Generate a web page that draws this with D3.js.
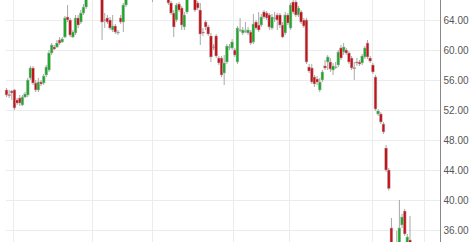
<!DOCTYPE html>
<html>
<head>
<meta charset="utf-8">
<script src="https://cdn.jsdelivr.net/npm/d3@7"></script>
<style>
  html, body { margin: 0; padding: 0; background: #fff; }
  svg { display: block; }
  .tick-label { font-family: "Liberation Sans", Arial, sans-serif; font-size: 10px; fill: #555; }
</style>
</head>
<body>
<svg id="chart"></svg>
<script>
// Daily OHLC values (some candles run past the top/bottom edge)
const opens = [
  54.67, 54.05, 54.53, 54.67, 53.33, 53.60, 52.67, 53.73, 54.00, 56.27,
  57.60, 55.60, 54.67, 55.73, 55.60, 56.67, 57.33, 59.60, 60.40, 60.40,
  61.33, 61.07, 61.73, 64.40, 64.00, 61.73, 62.27, 64.27, 63.73, 64.93,
  65.73, 66.90, 67.30, 67.90, 68.30, 67.90, 67.10, 64.05, 64.27, 64.00,
  62.67, 63.20, 62.27, 64.27, 63.73, 66.00, 67.20, 67.60, 68.00, 68.50,
  68.20, 67.90, 68.40, 69.00, 68.60, 67.70, 67.10, 67.60, 68.10, 67.80,
  67.50, 67.20, 66.27, 64.93, 64.00, 66.13, 65.60, 63.07, 65.07, 67.00,
  67.50, 67.30, 66.27, 65.33, 62.40, 63.73, 63.07, 61.87, 60.45, 61.87,
  58.93, 58.93, 56.93, 58.40, 60.35, 60.27, 60.00, 58.40, 62.60, 62.27,
  62.50, 62.27, 62.40, 61.07, 63.73, 63.33, 63.33, 65.07, 64.93, 64.67,
  62.93, 64.23, 64.67, 64.67, 63.33, 62.27, 64.67, 62.93, 66.40, 66.40,
  64.67, 65.07, 64.00, 64.00, 57.73, 57.60, 56.40, 56.13, 54.67, 56.00,
  57.87, 58.40, 58.40, 57.33, 57.70, 58.00, 60.27, 59.73, 60.00, 59.60,
  58.93, 57.65, 58.40, 58.40, 58.27, 59.07, 60.93, 58.93, 58.00, 56.40,
  51.47, 51.47, 50.13, 46.93, 44.00, 36.27, 33.50, 33.00, 33.33, 36.67,
  38.53, 34.00, 34.67
];
const highs = [
  54.93, 54.67, 54.67, 54.80, 53.60, 54.00, 54.00, 54.40, 56.27, 57.87,
  57.87, 56.00, 56.27, 56.00, 56.80, 58.00, 60.00, 60.93, 60.67, 61.33,
  61.73, 61.73, 64.53, 66.00, 64.27, 62.67, 64.67, 64.67, 65.33, 66.13,
  67.30, 67.60, 68.20, 68.60, 68.90, 68.40, 67.50, 64.93, 64.67, 64.40,
  64.67, 63.47, 62.67, 64.67, 66.27, 67.60, 67.90, 68.30, 68.80, 69.10,
  68.70, 68.60, 69.20, 69.50, 68.90, 68.00, 67.90, 68.40, 68.60, 68.20,
  67.90, 67.40, 66.53, 65.33, 66.27, 66.40, 65.87, 65.07, 67.50, 67.80,
  68.00, 67.60, 66.53, 66.27, 62.93, 64.00, 63.33, 62.27, 60.80, 62.13,
  59.20, 59.20, 59.33, 60.80, 60.80, 61.47, 60.27, 63.20, 64.27, 63.07,
  63.73, 63.07, 62.67, 64.80, 64.00, 65.07, 64.80, 65.33, 65.20, 64.93,
  64.80, 65.07, 64.93, 64.93, 63.73, 65.07, 64.93, 66.27, 66.67, 66.67,
  65.87, 65.33, 64.27, 64.27, 58.13, 58.13, 56.67, 56.53, 56.27, 57.33,
  58.67, 59.33, 58.93, 58.27, 58.40, 60.00, 60.67, 60.93, 60.27, 59.87,
  59.20, 58.40, 58.93, 58.67, 59.47, 60.53, 61.33, 59.20, 58.27, 56.67,
  52.13, 51.73, 50.40, 47.33, 44.27, 37.60, 34.20, 35.87, 40.00, 38.13,
  38.80, 35.47, 37.87
];
const lows = [
  53.73, 53.60, 53.33, 52.00, 52.67, 52.53, 52.53, 53.60, 53.73, 56.00,
  55.33, 54.40, 54.40, 55.20, 55.33, 56.40, 57.07, 59.33, 60.00, 60.27,
  60.67, 60.93, 61.60, 63.73, 61.73, 61.60, 62.00, 62.93, 63.47, 64.67,
  65.47, 66.80, 67.00, 67.40, 67.60, 67.20, 61.33, 62.93, 63.47, 62.67,
  62.40, 62.13, 62.00, 63.47, 62.40, 65.73, 66.90, 67.20, 67.70, 68.00,
  67.60, 67.50, 68.10, 68.30, 67.40, 66.40, 66.80, 67.30, 67.50, 67.20,
  66.90, 66.00, 64.67, 61.73, 63.73, 65.07, 62.67, 62.67, 64.80, 66.80,
  66.90, 65.07, 65.33, 60.67, 61.87, 62.67, 61.87, 58.40, 60.00, 58.93,
  58.00, 56.40, 55.33, 58.13, 60.00, 60.00, 59.07, 58.13, 62.40, 62.00,
  62.27, 62.00, 60.67, 60.80, 62.67, 62.40, 63.07, 64.13, 64.00, 62.67,
  62.67, 63.73, 62.67, 62.93, 61.60, 62.00, 63.33, 62.67, 64.80, 64.40,
  64.40, 63.47, 62.93, 58.13, 56.93, 55.47, 55.07, 55.33, 54.40, 55.73,
  57.33, 57.33, 57.07, 56.67, 57.47, 57.73, 58.67, 59.33, 59.33, 58.13,
  57.33, 56.00, 57.87, 57.87, 58.00, 58.80, 58.80, 58.27, 56.80, 51.87,
  51.20, 50.13, 48.80, 43.73, 41.27, 32.67, 32.30, 32.50, 33.00, 36.27,
  35.20, 33.70, 33.90
];
const closes = [
  54.00, 53.95, 54.27, 52.27, 52.93, 52.93, 53.73, 54.13, 56.00, 57.60,
  55.60, 54.67, 55.73, 55.47, 56.53, 57.73, 59.60, 60.67, 60.13, 60.93,
  60.93, 61.47, 64.27, 64.00, 62.00, 62.40, 64.27, 63.33, 64.93, 65.73,
  66.80, 67.30, 67.90, 68.30, 67.90, 68.00, 63.73, 63.95, 63.73, 62.93,
  63.20, 62.40, 62.40, 63.73, 66.00, 67.20, 67.60, 68.00, 68.50, 68.20,
  67.90, 68.40, 69.00, 68.60, 67.70, 67.10, 67.60, 68.10, 67.80, 67.50,
  67.20, 66.27, 64.93, 63.07, 66.00, 65.33, 63.33, 64.67, 67.00, 67.50,
  67.30, 65.33, 65.60, 62.13, 62.35, 63.07, 62.13, 59.07, 60.35, 59.20,
  58.27, 56.67, 58.27, 60.53, 60.45, 61.07, 59.33, 62.93, 62.70, 62.67,
  62.58, 62.67, 60.93, 63.47, 62.93, 62.67, 64.40, 64.40, 64.27, 63.07,
  64.40, 64.30, 64.00, 63.33, 61.73, 64.67, 63.60, 66.00, 65.07, 64.67,
  65.60, 63.73, 63.20, 58.40, 57.20, 55.73, 55.47, 55.73, 55.73, 57.07,
  57.60, 59.07, 57.47, 57.87, 57.76, 59.73, 58.93, 60.40, 59.60, 58.40,
  57.60, 57.55, 58.27, 58.13, 59.20, 60.27, 59.07, 58.53, 57.07, 52.13,
  51.87, 50.40, 49.07, 44.00, 41.53, 33.33, 32.80, 33.80, 36.27, 37.73,
  35.47, 35.07, 34.13
];
// price axis ticks and vertical grid positions (in trading-day units)
const priceTicks = [36, 40, 44, 48, 52, 56, 60, 64];
const gridDays = [2.5, 32.2, 54.8, 85.3, 106.4, 137.7, 157.3];

const width = 474, height = 242;
const axisX = 440;
const upColor = '#1ea82a', downColor = '#c3141b';

const candles = opens.map((o, i) => ({ i, o, h: highs[i], l: lows[i], c: closes[i] }));

const svg = d3.select('#chart').attr('width', width).attr('height', height);

const x = d3.scaleLinear().domain([0, candles.length - 1]).range([6.5, 410]);
const y = d3.scaleLinear().domain([64, 36]).range([20, 230]);

svg.append('clipPath').attr('id', 'plot-clip')
  .append('rect').attr('x', 0).attr('y', 0).attr('width', axisX).attr('height', height);

// grid
const grid = svg.append('g');
grid.selectAll('.hgrid')
  .data(priceTicks)
  .enter().append('line')
  .attr('x1', 6).attr('x2', axisX)
  .attr('y1', d => Math.round(y(d)) + 0.5).attr('y2', d => Math.round(y(d)) + 0.5)
  .attr('stroke', '#ececec');
grid.selectAll('.vgrid')
  .data(gridDays)
  .enter().append('line')
  .attr('x1', d => Math.round(x(d)) + 0.5).attr('x2', d => Math.round(x(d)) + 0.5)
  .attr('y1', 0).attr('y2', height)
  .attr('stroke', '#ececec');

// candles
const plot = svg.append('g').attr('clip-path', 'url(#plot-clip)');

plot.selectAll('.wick')
  .data(candles)
  .enter().append('line')
  .attr('x1', d => x(d.i)).attr('x2', d => x(d.i))
  .attr('y1', d => y(d.h)).attr('y2', d => y(d.l))
  .attr('stroke', '#a8a8a8')
  .attr('stroke-width', 1);

plot.selectAll('.body')
  .data(candles)
  .enter().append('rect')
  .attr('x', d => x(d.i) - 1.4)
  .attr('width', 2.8)
  .attr('y', d => y(Math.max(d.o, d.c)))
  .attr('height', d => Math.max(1, Math.abs(y(d.o) - y(d.c))))
  .attr('fill', d => d.c >= d.o ? upColor : downColor)
  .attr('stroke', '#bdbdbd')
  .attr('stroke-width', 0.5);

// right price axis
const axis = svg.append('g').attr('transform', `translate(${axisX + 0.5},0)`);
axis.append('line').attr('y1', 0).attr('y2', height).attr('stroke', '#888');
axis.selectAll('text')
  .data(priceTicks)
  .enter().append('text')
  .attr('class', 'tick-label')
  .attr('x', 3)
  .attr('y', d => y(d))
  .attr('dy', '0.35em')
  .text(d3.format('.2f'));
</script>
</body>
</html>
